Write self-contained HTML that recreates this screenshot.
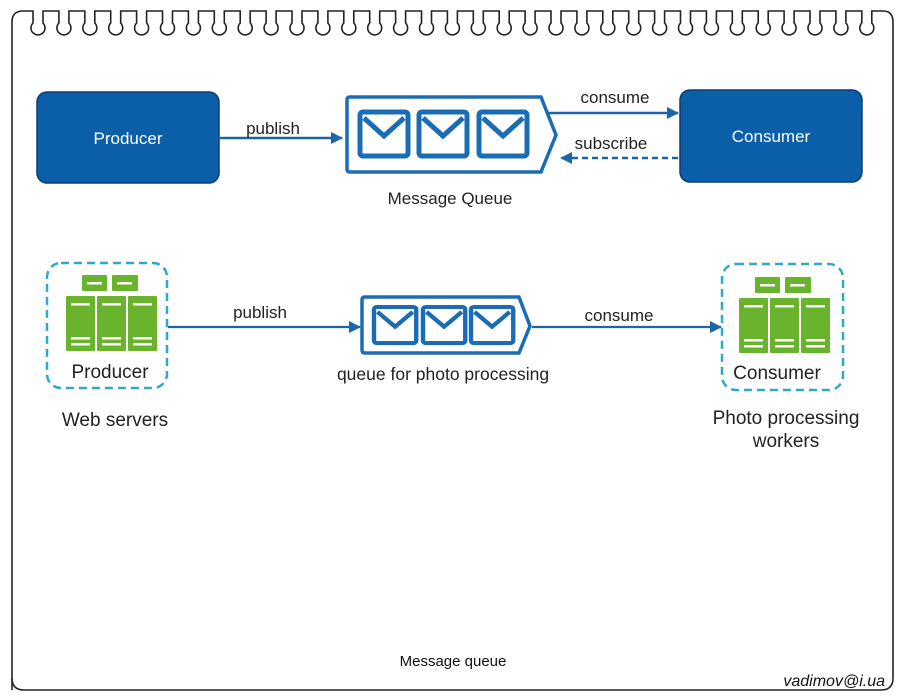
<!DOCTYPE html>
<html><head><meta charset="utf-8"><style>
html,body{margin:0;padding:0;background:#fff;}
svg{display:block;font-family:"Liberation Sans",Arial,sans-serif;}
</style></head><body>
<svg width="900" height="700" viewBox="0 0 900 700" xmlns="http://www.w3.org/2000/svg">
<defs>
<marker id="ah" markerWidth="12" markerHeight="12" refX="11" refY="6" orient="auto" markerUnits="userSpaceOnUse"><path d="M0,0 L12,6 L0,12 z" fill="#1a66a8"/></marker>
<g id="env"><rect x="0" y="0" width="48" height="44" rx="3" fill="none" stroke="#1a6db5" stroke-width="5"/><path d="M4,6 L24,24 L44,6" fill="none" stroke="#1a6db5" stroke-width="5"/></g>
<g id="srv">
<rect x="16" y="0" width="25" height="16" rx="1" fill="#6ab42d"/><rect x="46" y="0" width="26" height="16" rx="1" fill="#6ab42d"/>
<rect x="21" y="7" width="15" height="2.5" fill="#fff"/><rect x="51" y="7" width="15" height="2.5" fill="#fff"/>
<rect x="0" y="21" width="29" height="55" rx="1" fill="#6ab42d"/><rect x="31" y="21" width="29" height="55" rx="1" fill="#6ab42d"/><rect x="62" y="21" width="29" height="55" rx="1" fill="#6ab42d"/>
<g fill="#fff"><rect x="5" y="28" width="19" height="2.5"/><rect x="36" y="28" width="19" height="2.5"/><rect x="67" y="28" width="19" height="2.5"/>
<rect x="5" y="62" width="19" height="2.5"/><rect x="36" y="62" width="19" height="2.5"/><rect x="67" y="62" width="19" height="2.5"/>
<rect x="5" y="68" width="19" height="2.5"/><rect x="36" y="68" width="19" height="2.5"/><rect x="67" y="68" width="19" height="2.5"/></g>
</g>
</defs>
<path d="M12,690 L12,22 Q12,11 23,11 L28,11" fill="none" stroke="#222" stroke-width="1.6"/>
<path d="M872,11 L883,11 Q893,11 893,22 L893,678 Q893,690 881,690 L24,690 Q12,690 12,678" fill="none" stroke="#222" stroke-width="1.6"/>
<g id="loops" fill="none" stroke="#222" stroke-width="1.6"></g>
<rect x="37" y="92" width="182" height="91" rx="10" fill="#0b5fa8" stroke="#0a3d70" stroke-width="1.5"/>
<text x="128" y="144" font-size="17" fill="#fff" text-anchor="middle">Producer</text>
<rect x="680" y="90" width="182" height="92" rx="10" fill="#0b5fa8" stroke="#0a3d70" stroke-width="1.5"/>
<text x="771" y="142" font-size="17" fill="#fff" text-anchor="middle">Consumer</text>
<path d="M350,97 L541,97 L556,135 L541,172 L350,172 Q347,172 347,169 L347,100 Q347,97 350,97 z" fill="#fff" stroke="#1a6db5" stroke-width="3.5"/>
<use href="#env" x="360" y="112"/><use href="#env" x="419" y="112"/><use href="#env" x="479" y="112"/>
<line x1="220" y1="138" x2="342" y2="138" stroke="#1a66a8" stroke-width="2.5" marker-end="url(#ah)"/>
<text x="273" y="134" font-size="17" fill="#222" text-anchor="middle">publish</text>
<line x1="546" y1="113" x2="678" y2="113" stroke="#1a66a8" stroke-width="2.5" marker-end="url(#ah)"/>
<text x="615" y="103" font-size="17" fill="#222" text-anchor="middle">consume</text>
<line x1="678" y1="158" x2="561" y2="158" stroke="#1a66a8" stroke-width="2.5" stroke-dasharray="6,4" marker-end="url(#ah)"/>
<text x="611" y="149" font-size="17" fill="#222" text-anchor="middle">subscribe</text>
<text x="450" y="204" font-size="17" fill="#222" text-anchor="middle">Message Queue</text>
<rect x="47" y="263" width="120" height="125" rx="14" fill="none" stroke="#2fa9c6" stroke-width="2.5" stroke-dasharray="8,5"/>
<use href="#srv" x="66" y="275"/>
<text x="110" y="378" font-size="19" fill="#222" text-anchor="middle">Producer</text>
<text x="115" y="426" font-size="19" fill="#222" text-anchor="middle">Web servers</text>
<rect x="722" y="264" width="121" height="126" rx="14" fill="none" stroke="#2fa9c6" stroke-width="2.5" stroke-dasharray="8,5"/>
<use href="#srv" x="739" y="277"/>
<text x="777" y="379" font-size="19" fill="#222" text-anchor="middle">Consumer</text>
<text x="786" y="424" font-size="19" fill="#222" text-anchor="middle">Photo processing</text>
<text x="786" y="447" font-size="19" fill="#222" text-anchor="middle">workers</text>
<path d="M365,297 L519,297 L530,326 L519,353 L365,353 Q362,353 362,350 L362,300 Q362,297 365,297 z" fill="#fff" stroke="#1a6db5" stroke-width="3.5"/>
<g transform="translate(374,307) scale(0.88,0.82)"><use href="#env"/></g>
<g transform="translate(423,307) scale(0.88,0.82)"><use href="#env"/></g>
<g transform="translate(471,307) scale(0.88,0.82)"><use href="#env"/></g>
<line x1="168" y1="327" x2="360" y2="327" stroke="#1a66a8" stroke-width="2.2" marker-end="url(#ah)"/>
<text x="260" y="318" font-size="17" fill="#222" text-anchor="middle">publish</text>
<line x1="532" y1="327" x2="721" y2="327" stroke="#1a66a8" stroke-width="2.2" marker-end="url(#ah)"/>
<text x="619" y="321" font-size="17" fill="#222" text-anchor="middle">consume</text>
<text x="443" y="380" font-size="17.5" fill="#222" text-anchor="middle">queue for photo processing</text>
<text x="453" y="666" font-size="15" fill="#111" text-anchor="middle">Message queue</text>
<text x="885" y="686" font-size="16" fill="#111" text-anchor="end" font-style="italic">vadimov@i.ua</text>
</svg>
<script>
(function(){
var g=document.getElementById('loops');var d='M28,11';
for(var i=0;i<33;i++){var x=38+i*25.9;
d+=' L'+(x-5)+',11 L'+(x-5)+',23 A7,7 0 1,0 '+(x+5)+',23 L'+(x+5)+',11';}
d+=' L872,11';
var p=document.createElementNS('http://www.w3.org/2000/svg','path');p.setAttribute('d',d);g.appendChild(p);
})();
</script>
</body></html>
